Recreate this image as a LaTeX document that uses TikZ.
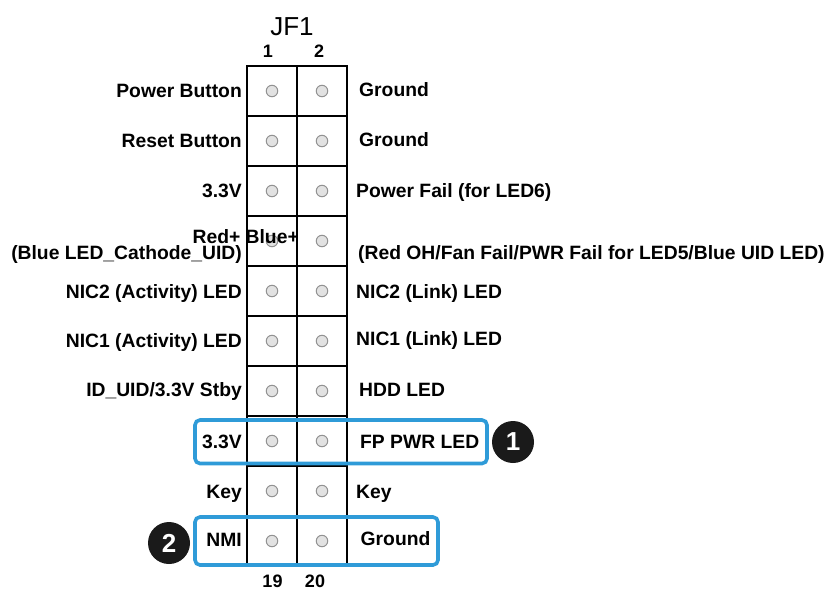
\documentclass[tikz,border=0pt]{standalone}
\usepackage{fontspec}
\setmainfont{Liberation Sans}
\usepackage{xcolor}
\usepackage{tikz}
\usetikzlibrary{positioning}
\definecolor{callout}{HTML}{2F9BD8}
\definecolor{pinfill}{HTML}{E2E2E2}
\definecolor{pinedge}{HTML}{929292}
\definecolor{dark}{HTML}{1A1A1A}
\tikzset{
    grid/.style={draw=black, line width=1.4pt},
    pinhole/.style={circle, draw=pinedge, fill=pinfill, line width=1pt, minimum size=11.5pt, inner sep=0pt},
    lbl/.style={inner sep=0pt, font=\fontsize{19.3}{21}\selectfont\bfseries},
    lleft/.style={lbl, anchor=base east},
    lright/.style={lbl, anchor=base west},
    title/.style={inner sep=0pt, anchor=base, font=\fontsize{26}{28}\selectfont},
    pinnum/.style={inner sep=0pt, anchor=base, font=\fontsize{18}{20}\selectfont\bfseries},
    hilite/.style={draw=callout, line width=3.6pt, rounded corners=5pt},
    badge/.style={circle, fill=dark, minimum size=42pt, inner sep=0pt, text=white, font=\fontsize{26}{26}\selectfont\bfseries}
}

\begin{document}
\begin{tikzpicture}[x=1pt, y=-1pt]
\useasboundingbox (0,0) rectangle (834,592);

\draw[grid] (247,66) rectangle (347,566);
\draw[grid] (297,66) -- (297,566);
\foreach \y in {116,166,...,516}
    \draw[grid] (247,\y) -- (347,\y);

\foreach \r in {1,...,10} {
    \node[pinhole] (odd\r) at (272,41+50*\r) {};
    \node[pinhole] (even\r) at (322,41+50*\r) {};
}

\node[title] (jf1) at (292,35) {JF1};
\node[pinnum] (numa) at (268,57) {1};
\node[pinnum] (numb) at (319,57) {2};
\node[pinnum] (numc) at (272.5,587.5) {19};
\node[pinnum] (numd) at (315,587.5) {20};

\node[lleft] (pwrbtn) at (242,97.5) {Power Button};
\node[lleft] (rstbtn) at (242,147.5) {Reset Button};
\node[lleft] (vcc) at (242,197.5) {3.3V};
\node[lleft] (redblue) at (299,243) {Red+ Blue+};
\node[lleft] (blueled) at (242,259) {(Blue LED\_Cathode\_UID)};
\node[lleft] (nicaact) at (242,298) {NIC2 (Activity) LED};
\node[lleft] (nicbact) at (242,347.5) {NIC1 (Activity) LED};
\node[lleft] (iduid) at (242,396) {ID\_UID/3.3V Stby};
\node[lleft] (fpvcc) at (242,448) {3.3V};
\node[lleft] (keyl) at (242,498) {Key};
\node[lleft] (nmi) at (242,546) {NMI};

\node[lright] (gnda) at (359,96) {Ground};
\node[lright] (gndb) at (359,146.5) {Ground};
\node[lright] (pwrfail) at (356,197) {Power Fail (for LED6)};
\node[lright] (redoh) at (358,259) {(Red OH/Fan Fail/PWR Fail for LED5/Blue UID LED)};
\node[lright] (nicalnk) at (356,298) {NIC2 (Link) LED};
\node[lright] (nicblnk) at (356,345) {NIC1 (Link) LED};
\node[lright] (hddled) at (359,396.5) {HDD LED};
\node[lright] (fppwr) at (360,448) {FP PWR LED};
\node[lright] (keyr) at (356,498) {Key};
\node[lright] (gndc) at (360.5,545) {Ground};

\draw[hilite] (195,420) rectangle (487,463.5);
\draw[hilite] (195,517) rectangle (438,565);

\node[badge] (callone) at (513,442) {1};
\node[badge] (calltwo) at (169,543) {2};

\end{tikzpicture}
\end{document}
